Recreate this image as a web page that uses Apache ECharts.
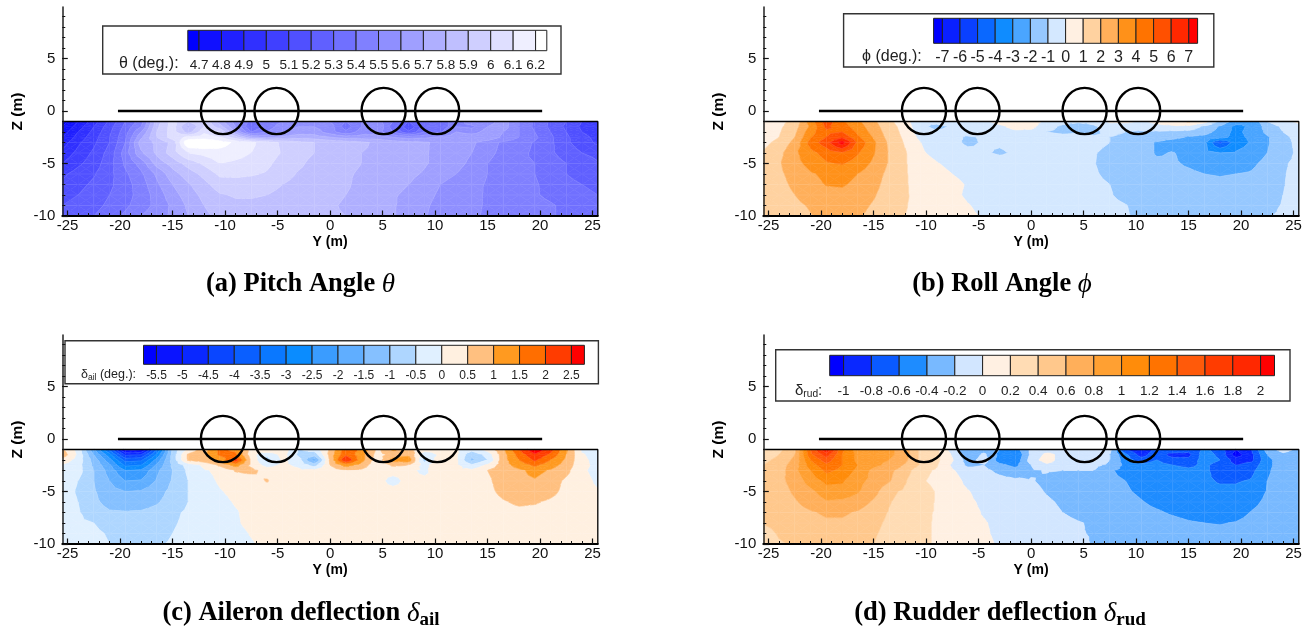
<!DOCTYPE html>
<html><head><meta charset="utf-8">
<style>html,body{margin:0;padding:0;background:#fff}#c{width:1313px;height:628px}</style>
<script src="https://cdn.jsdelivr.net/npm/echarts@6/dist/echarts.min.js"></script>
</head><body><div id="c"></div>
<script>
// Sample stations of every contour field
const spanY=[-25.5,-24,-22.5,-21,-19.5,-18,-16.5,-15,-13.5,-12,-10.5,-9,-7.5,-6,-4.5,-3,-1.5,0,1.5,3,4.5,6,7.5,9,10.5,12,13.5,15,16.5,18,19.5,21,22.5,24,25.5];
const heightZ=[-1,-1.5,-2,-2.5,-3,-4,-5,-6,-7,-8,-9,-10];
// Wing and rotors
const wingY=[-20.2,20.2];
const rotorY=[-10.2,-5.1,5.1,10.2];
const rotorRadiusY=2.1, rotorRadiusZ=2.2;
// Tick values
const majorY=[-25,-20,-15,-10,-5,0,5,10,15,20,25];
const minorY=[-25,-24,-23,-22,-21,-20,-19,-18,-17,-16,-15,-14,-13,-12,-11,-10,-9,-8,-7,-6,-5,-4,-3,-2,-1,0,1,2,3,4,5,6,7,8,9,10,11,12,13,14,15,16,17,18,19,20,21,22,23,24,25];
const majorZ=[-10,-5,0,5];
const minorZ=[-10,-9,-8,-7,-6,-5,-4,-3,-2,-1,0,1,2,3,4,5,6,7,8,9];
// Contour levels
const thetaLevels=[4.7,4.8,4.9,5,5.1,5.2,5.3,5.4,5.5,5.6,5.7,5.8,5.9,6,6.1,6.2];
const phiLevels=[-7,-6,-5,-4,-3,-2,-1,0,1,2,3,4,5,6,7];
const ailLevels=[-5.5,-5,-4.5,-4,-3.5,-3,-2.5,-2,-1.5,-1,-0.5,0,0.5,1,1.5,2,2.5];
const rudLevels=[-1,-0.8,-0.6,-0.4,-0.2,0,0.2,0.4,0.6,0.8,1,1.2,1.4,1.6,1.8,2];
// Pitch angle theta (deg), rows follow heightZ
const thetaField=[
[4.65,4.8,4.95,5.12,5.3,5.45,5.85,6.05,5.9,6.0,5.75,5.55,5.35,5.45,5.5,5.55,5.55,5.5,5.4,5.5,5.55,5.4,5.2,5.4,5.35,5.45,5.55,5.55,5.65,5.5,5.38,5.28,5.2,5.1,5.0],
[4.7,4.85,5.0,5.16,5.33,5.5,5.88,6.05,5.78,6.0,5.85,5.6,5.3,5.45,5.55,5.6,5.6,5.55,5.35,5.5,5.6,5.35,5.12,5.35,5.3,5.5,5.48,5.6,5.65,5.5,5.38,5.28,5.18,5.08,5.02],
[4.75,4.9,5.03,5.18,5.36,5.6,5.9,6.05,5.85,6.08,6.0,5.7,5.4,5.5,5.6,5.65,5.65,5.55,5.42,5.55,5.55,5.4,5.22,5.4,5.38,5.6,5.55,5.65,5.6,5.5,5.4,5.3,5.2,5.1,5.05],
[4.8,4.94,5.06,5.2,5.38,5.68,5.9,6.05,6.12,6.15,6.1,5.95,5.72,5.68,5.72,5.76,5.75,5.7,5.65,5.65,5.65,5.6,5.55,5.58,5.62,5.68,5.68,5.68,5.58,5.5,5.42,5.32,5.22,5.13,5.07],
[4.85,4.98,5.08,5.2,5.4,5.75,5.82,5.93,6.3,6.3,6.25,6.18,6.12,6.05,5.98,5.93,5.9,5.88,5.85,5.82,5.78,5.75,5.73,5.71,5.68,5.65,5.62,5.55,5.48,5.45,5.39,5.32,5.22,5.15,5.08],
[4.93,5.03,5.12,5.24,5.45,5.68,5.82,5.95,6.1,6.13,6.16,6.14,6.1,6.05,5.99,5.94,5.9,5.86,5.83,5.8,5.78,5.76,5.74,5.71,5.67,5.64,5.6,5.53,5.47,5.43,5.38,5.32,5.25,5.2,5.17],
[5,5.08,5.15,5.26,5.42,5.54,5.74,5.84,5.94,6.02,6.1,6.08,6.06,6.02,5.96,5.92,5.87,5.84,5.82,5.8,5.78,5.76,5.74,5.71,5.67,5.63,5.58,5.5,5.45,5.42,5.4,5.35,5.3,5.26,5.21],
[5.08,5.14,5.19,5.27,5.38,5.48,5.62,5.76,5.85,5.93,6.02,6.02,6.01,5.99,5.94,5.89,5.86,5.83,5.81,5.79,5.77,5.75,5.72,5.69,5.63,5.6,5.55,5.5,5.45,5.43,5.4,5.36,5.3,5.26,5.24],
[5.12,5.17,5.22,5.28,5.36,5.45,5.58,5.7,5.79,5.87,5.95,5.96,5.96,5.94,5.9,5.87,5.85,5.83,5.81,5.78,5.76,5.73,5.7,5.66,5.6,5.57,5.53,5.49,5.46,5.44,5.41,5.37,5.33,5.3,5.28],
[5.17,5.2,5.25,5.3,5.36,5.44,5.54,5.66,5.75,5.83,5.89,5.91,5.91,5.9,5.87,5.85,5.84,5.82,5.8,5.78,5.75,5.71,5.68,5.64,5.58,5.55,5.52,5.49,5.46,5.44,5.41,5.38,5.35,5.32,5.3],
[5.2,5.23,5.27,5.32,5.38,5.45,5.53,5.62,5.72,5.8,5.85,5.88,5.88,5.87,5.85,5.84,5.83,5.81,5.79,5.77,5.74,5.71,5.66,5.62,5.56,5.54,5.52,5.49,5.47,5.45,5.43,5.41,5.38,5.35,5.33],
[5.22,5.25,5.3,5.35,5.42,5.5,5.56,5.62,5.7,5.78,5.82,5.84,5.84,5.84,5.83,5.82,5.81,5.81,5.8,5.77,5.74,5.71,5.65,5.61,5.55,5.53,5.51,5.49,5.47,5.45,5.43,5.41,5.38,5.36,5.35]];
// Roll angle phi (deg)
const phiField=[
[.3,.7,1.3,3.5,5.5,4.2,3.2,2.2,1.2,.4,-.9,-.8,-.6,-.4,-.2,.3,.5,.4,-.2,-.7,-.9,-.8,.2,.3,-.2,.3,.7,1.2,.5,-1.2,-2.5,-3,-1,-.3,.2],
[.3,.8,1.6,3.2,5.2,4.5,3.5,2.4,1.4,.6,-.8,-1.2,-.9,-.7,-.5,-.2,.3,.3,-.6,-1.2,-1.3,-1.1,-.6,-.8,-.6,-.4,-.2,-.3,-1.2,-2.1,-3.3,-2.8,-1.6,-.8,-.3],
[.2,.9,1.8,3.6,4.8,5,3.8,2.6,1.5,.7,-.6,-.9,-.8,-.6,-.6,-.4,-.2,-.3,-1,-1.2,-1.1,-1.2,-.7,-1,-1.1,-1.1,-1.2,-1.3,-1.6,-2.4,-3.3,-2.6,-1.8,-1,-.4],
[.4,1,2,3.9,5,5.8,4.2,2.9,1.6,.8,-.3,-.7,-.8,-1.1,-.9,-.6,-.5,-.5,-.6,-.7,-.7,-.9,-1,-1.3,-1.3,-1.5,-1.7,-2.1,-2.3,-2.7,-3.3,-2.8,-2.1,-1.3,-.6],
[.7,1.3,2.3,4.4,5.6,7.5,4.8,3.2,1.8,.9,0,-.4,-.7,-1.2,-.9,-.9,-.8,-.6,-.5,-.5,-.6,-.8,-1,-1.4,-1.6,-2.1,-2.5,-2.7,-2.8,-5.2,-3.5,-2.9,-2.1,-1.4,-.7],
[1.1,1.7,2.8,3.7,4.4,4.9,4.1,3.1,1.9,1.1,.1,-.2,-.5,-.7,-.9,-1.1,-.9,-.7,-.6,-.6,-.7,-.95,-1.2,-1.5,-1.6,-2.1,-1.95,-2.3,-2.7,-3,-2.9,-2.6,-2,-1.4,-.8],
[1.3,1.9,2.7,3.3,3.9,4.1,3.6,2.8,1.9,1.1,.3,.05,-.2,-.35,-.5,-.6,-.7,-.7,-.75,-.8,-.8,-.97,-1.3,-1.5,-1.6,-1.8,-1.9,-2.1,-2.3,-2.5,-2.5,-2.2,-1.7,-1.1,-.8],
[1.3,1.8,2.4,2.9,3.2,3.3,3,2.5,1.7,1.1,.5,.25,0,-.15,-.25,-.35,-.45,-.5,-.55,-.6,-.7,-.9,-1.2,-1.4,-1.6,-1.7,-1.8,-1.85,-2,-2.05,-2,-1.9,-1.5,-1.05,-.8],
[1.3,1.7,2.2,2.7,3.05,3.1,2.8,2.3,1.6,1.1,.6,.35,.15,-.05,-.2,-.3,-.4,-.45,-.5,-.55,-.65,-.8,-1,-1.2,-1.45,-1.55,-1.65,-1.7,-1.8,-1.85,-1.8,-1.7,-1.4,-1.03,-.8],
[1.3,1.6,2,2.4,2.7,2.75,2.5,2.1,1.5,1.1,.7,.45,.15,-.1,-.2,-.3,-.4,-.45,-.5,-.6,-.7,-.8,-.95,-1.2,-1.35,-1.5,-1.55,-1.6,-1.7,-1.75,-1.7,-1.6,-1.35,-1,-.8],
[1.2,1.5,1.8,2.1,2.4,2.5,2.3,1.9,1.4,1.05,.75,.5,.25,.03,-.15,-.25,-.35,-.4,-.5,-.55,-.65,-.75,-.85,-.97,-1.25,-1.4,-1.5,-1.55,-1.6,-1.65,-1.6,-1.5,-1.2,-.95,-.8],
[1.2,1.4,1.6,1.95,2.3,2.4,2.1,1.75,1.3,1,.75,.5,.3,.1,-.05,-.2,-.3,-.4,-.45,-.55,-.6,-.7,-.8,-.93,-1.15,-1.3,-1.4,-1.5,-1.55,-1.6,-1.5,-1.35,-1.05,-.9,-.8]];
// Aileron deflection (deg)
const ailField=[
[.6,-.2,-1.9,-3.6,-5.7,-5.6,-3.5,-.9,.1,.8,1.6,1.4,.3,.5,.3,-.5,-.3,.6,1.8,1.4,.4,1.1,.7,.2,.1,.1,-.3,.2,.9,2,2.9,2.2,1.1,-.1,-.2],
[.8,-.1,-1.5,-2.8,-4.6,-4.5,-2.9,-.8,.6,.9,1.6,1.6,.2,-.4,.2,-.6,-.8,.7,1.9,1.2,.3,.7,.9,-.3,.1,.1,-.9,-.3,.8,1.7,2.4,1.9,1,.05,-.2],
[.3,-.2,-1.2,-2.3,-3.7,-3.6,-2.3,-.8,.6,.8,1.1,2.3,.4,-.7,.1,-.3,-1.7,.6,2.5,1.2,.2,1.2,1.3,-.7,.4,.1,-1.1,-.5,.8,1.5,2.1,1.5,.9,.1,-.15],
[-.05,-.3,-1.1,-1.9,-3.1,-3,-1.9,-.9,-.3,.1,.6,1.2,.4,-.2,.1,-.1,-.7,.5,1.2,.8,.1,.6,.5,-.2,.5,.1,-.4,.1,.8,1.2,1.6,1.2,.8,.1,-.1],
[-.2,-.3,-1,-1.7,-2.5,-2.4,-1.6,-1,-.4,-.05,.1,.55,.65,.3,.15,.1,.1,.2,.5,.4,.1,.1,.1,-.1,.3,.1,.1,.5,.75,.9,1.15,.95,.65,.05,-.1],
[-.3,-.5,-1,-1.5,-2,-1.95,-1.45,-.95,-.5,-.15,.05,.2,.2,.55,.1,.1,.1,.1,.1,.1,.1,-.1,.1,.1,.1,.1,.15,.4,.75,.9,.95,.75,.4,.1,-.05],
[-.3,-.55,-.95,-1.3,-1.5,-1.45,-1.2,-.85,-.5,-.2,-.03,.1,.1,.1,.1,.1,.1,.1,.1,.1,.1,.1,.1,.1,.1,.1,.15,.35,.65,.8,.8,.65,.35,.1,.02],
[-.3,-.5,-.9,-1.15,-1.2,-1.2,-1.05,-.8,-.5,-.25,-.1,.03,.1,.1,.1,.1,.1,.1,.1,.1,.1,.1,.1,.1,.1,.1,.12,.25,.45,.6,.55,.42,.25,.1,.05],
[-.3,-.45,-.8,-.95,-.97,-.95,-.85,-.6,-.42,-.3,-.15,-.03,.1,.1,.1,.1,.1,.1,.1,.1,.1,.1,.1,.1,.1,.1,.1,.15,.3,.35,.35,.25,.15,.1,.08],
[-.3,-.4,-.5,-.7,-.8,-.8,-.75,-.55,-.4,-.3,-.2,-.05,.1,.1,.1,.1,.1,.1,.1,.1,.1,.1,.1,.1,.1,.1,.1,.1,.1,.1,.1,.1,.1,.1,.1],
[-.3,-.35,-.4,-.55,-.65,-.7,-.65,-.5,-.35,-.25,-.2,-.1,.02,.1,.1,.1,.1,.1,.1,.1,.1,.1,.1,.1,.1,.1,.1,.1,.1,.1,.1,.1,.1,.1,.1],
[-.3,-.3,-.35,-.5,-.6,-.65,-.55,-.45,-.3,-.25,-.2,-.1,-.03,.1,.1,.1,.1,.1,.1,.1,.1,.1,.1,.1,.1,.1,.1,.1,.1,.1,.1,.1,.1,.1,.1]];
// Rudder deflection
const rudField=[
[.3,.35,.55,1.4,2,1.25,.9,.95,.85,.7,.35,.25,-.1,-.35,-.3,-.4,-.5,-.15,-.1,-.05,-.1,-.1,-.15,-.8,-.95,-.75,-.6,-.75,-.55,-.7,-1,-.8,-.3,-.12,-.25],
[.3,.4,.6,1.35,1.7,1.2,.95,.9,.85,.7,.35,.25,-.02,-.4,-.15,-.45,-.6,-.15,.05,-.05,-.1,-.15,-.2,-.55,-.9,-.65,-.9,-.85,-.5,-.65,-1.1,-.85,-.4,-.25,-.3],
[.35,.45,.65,1.2,1.5,1.2,.95,.85,.8,.65,.35,.25,.02,-.3,-.1,-.5,-.55,-.1,.1,-.1,-.15,.03,-.2,-.5,-.7,-.6,-.7,-.75,-.5,-.6,-.9,-.85,-.45,-.3,-.3],
[.4,.5,.7,1.1,1.35,1.2,1,.85,.75,.58,.38,.22,-.03,-.25,-.2,-.35,-.45,-.2,-.05,-.1,-.15,-.15,-.25,-.45,-.55,-.55,-.6,-.65,-.55,-.7,-.8,-.72,-.45,-.3,-.3],
[.42,.5,.75,1,1.25,1.15,.95,.75,.65,.5,.25,.18,.02,-.1,-.15,-.25,-.33,-.22,-.19,-.2,-.2,-.2,-.38,-.45,-.5,-.5,-.52,-.55,-.55,-.7,-.75,-.65,-.43,-.3,-.3],
[.45,.55,.67,.9,1.05,1.03,.85,.75,.62,.42,.22,.16,.08,-.05,-.1,-.13,-.16,-.19,-.23,-.28,-.3,-.33,-.37,-.4,-.45,-.48,-.52,-.53,-.56,-.62,-.62,-.58,-.4,-.3,-.3],
[.42,.52,.63,.75,.92,.92,.82,.68,.44,.37,.27,.19,.08,.01,-.07,-.1,-.13,-.16,-.21,-.25,-.28,-.3,-.33,-.38,-.43,-.47,-.5,-.52,-.54,-.55,-.55,-.5,-.39,-.3,-.3],
[.42,.5,.58,.68,.78,.76,.72,.57,.41,.34,.26,.19,.08,.03,-.03,-.07,-.1,-.14,-.18,-.22,-.25,-.27,-.3,-.34,-.39,-.44,-.47,-.5,-.52,-.53,-.52,-.45,-.36,-.3,-.3],
[.4,.47,.54,.58,.63,.63,.58,.47,.39,.32,.23,.19,.07,.04,-.01,-.05,-.09,-.12,-.16,-.2,-.24,-.26,-.29,-.32,-.35,-.38,-.42,-.46,-.48,-.48,-.47,-.39,-.33,-.3,-.3],
[.41,.44,.5,.53,.57,.57,.53,.44,.37,.3,.22,.19,.07,.03,.01,-.03,-.06,-.09,-.12,-.16,-.19,-.22,-.26,-.28,-.31,-.33,-.35,-.38,-.4,-.41,-.39,-.35,-.3,-.28,-.27],
[.33,.42,.46,.49,.5,.5,.47,.42,.35,.28,.22,.19,.08,.05,.02,-.03,-.05,-.07,-.1,-.14,-.19,-.21,-.24,-.26,-.28,-.29,-.3,-.33,-.35,-.35,-.34,-.31,-.28,-.27,-.26],
[.28,.38,.42,.45,.46,.46,.44,.4,.33,.27,.22,.19,.14,.09,.04,-.02,-.04,-.06,-.09,-.12,-.17,-.21,-.23,-.25,-.26,-.27,-.28,-.29,-.3,-.3,-.29,-.28,-.27,-.26,-.26]];
// Band colours, one more than the levels
const thetaColors=['#0000ff','#1010ff','#2020ff','#3030ff','#4040ff','#5050ff','#6060ff','#7070ff','#8080ff','#8f8fff','#9f9fff','#afafff','#bfbfff','#cfcfff','#dfdfff','#efefff','#ffffff'];
const phiColors=['#0000ff','#0a20ff','#0a40ff','#0a68ff','#0f8cff','#4aa5ff','#96c8ff','#d4e8ff','#fff0e2','#ffd2a0','#ffaf5a','#ff9119','#ff7300','#ff5000','#ff2800','#ff0000'];
const ailColors=['#0000ff','#0a14ff','#0a28ff','#0a46ff','#0a5fff','#0a78ff','#0a8cff','#3a9cff','#60aeff','#85c0ff','#aed6ff','#e0f0ff','#fff0e0','#ffc080','#ff9a20','#ff6e00','#ff3c00','#ff0000'];
const rudColors=['#0000ff','#0a28ff','#0a5aff','#1e8cff','#78b9ff','#d2e6ff','#fff0e2','#ffdcb4','#ffc88c','#ffaf5a','#ffa032','#ff8c0a','#ff7300','#ff5a0a','#ff3c00','#ff2800','#ff0000'];

const panels=[
 {field:thetaField,levels:thetaLevels,colors:thetaColors,left:62.3,top:7,
  box:[102.7,26,458.3,48],bar:[187.8,30.3,359,20.4],lab:13.5,mar:8,
  lt:{x:119,y:56,text:'{a|θ (deg.):}',size:16},
  cap:{x:300.5,y:271,text:'{b|(a) Pitch Angle }{i|θ}'}},
 {field:phiField,levels:phiLevels,colors:phiColors,left:763.3,top:7,
  box:[843.6,13.7,370.2,53.3],bar:[933.6,18.3,264,25],lab:16,mar:6,
  lt:{x:862,y:49,text:'{a|ϕ (deg.):}',size:16},
  cap:{x:1002,y:271,text:'{b|(b) Roll Angle }{i|ϕ}'}},
 {field:ailField,levels:ailLevels,colors:ailColors,left:62.3,top:335,
  box:[65,340.7,533.4,43],bar:[143.5,345.3,440.9,19],lab:12,mar:5,
  lt:{x:81,y:367,text:'{a|δ}{s|ail}{a| (deg.):}',size:12.5},
  cap:{x:301,y:597,text:'{b|(c) Aileron deflection }{i|δ}{t|ail}'}},
 {field:rudField,levels:rudLevels,colors:rudColors,left:763.3,top:335,
  box:[775.7,349.7,514.3,51.3],bar:[829.7,355.3,444.8,20.4],lab:13.5,mar:9,
  lt:{x:795,y:382,text:'{a|δ}{s|rud}{a|:}',size:15},
  cap:{x:1000,y:597,text:'{b|(d) Rudder deflection }{i|δ}{t|rud}'}}
];

const sansFont='"Liberation Sans",Arial,sans-serif', serifFont='"Liberation Serif",serif';
const plotW=535.5, plotH=209;
const grid=[],xAxis=[],yAxis=[],series=[],title=[],graphic=[];

function clipTri(tri,lo,hi){
  function cut(poly,lim,keepAbove){
    const out=[];
    for(let i=0;i<poly.length;i++){
      const a=poly[i],b=poly[(i+1)%poly.length];
      const ia=keepAbove?a[2]>=lim:a[2]<=lim, ib=keepAbove?b[2]>=lim:b[2]<=lim;
      if(ia)out.push(a);
      if(ia!==ib){const t=(lim-a[2])/(b[2]-a[2]);out.push([a[0]+t*(b[0]-a[0]),a[1]+t*(b[1]-a[1]),lim]);}
    }
    return out;
  }
  let p=tri;
  if(lo!==null)p=cut(p,lo,true);
  if(p.length&&hi!==null)p=cut(p,hi,false);
  return p;
}
function contourRender(panel){
  const F=panel.field,L=panel.levels,C=panel.colors;
  return function(params,api){
    const i=api.value(3),j=api.value(4);
    if(i>=spanY.length-1||j>=heightZ.length-1)return null;
    const pt=(a,b)=>{const c=api.coord([spanY[a],heightZ[b]]);return [c[0],c[1],F[b][a]];};
    const p=[pt(i,j),pt(i+1,j),pt(i+1,j+1),pt(i,j+1)];
    const m=[0,1,2].map(k=>(p[0][k]+p[1][k]+p[2][k]+p[3][k])/4);
    const children=[];
    for(let e=0;e<4;e++){
      const tri=[p[e],p[(e+1)%4],m];
      for(let b=0;b<C.length;b++){
        const poly=clipTri(tri,b===0?null:L[b-1],b===C.length-1?null:L[b]);
        if(poly.length>=3)children.push({type:'polygon',shape:{points:poly.map(q=>[q[0],q[1]])},style:{fill:C[b],stroke:C[b],lineWidth:.6}});
      }
      for(const lv of L){
        const seg=[];
        for(let k=0;k<3;k++){
          const a=tri[k],c=tri[(k+1)%3];
          if((a[2]<lv)!==(c[2]<lv)){const t=(lv-a[2])/(c[2]-a[2]);seg.push([a[0]+t*(c[0]-a[0]),a[1]+t*(c[1]-a[1])]);}
        }
        if(seg.length===2)children.push({type:'line',shape:{x1:seg[0][0],y1:seg[0][1],x2:seg[1][0],y2:seg[1][1]},style:{stroke:'rgba(255,255,255,0.16)',lineWidth:.6},z2:5});
      }
    }
    // faint mesh seams as in the source plot
    if(i%2===0)children.push({type:'line',shape:{x1:p[0][0],y1:p[0][1],x2:p[3][0],y2:p[3][1]},style:{stroke:'rgba(255,255,255,0.13)',lineWidth:.7},z2:6});
    if(j>=4)children.push({type:'line',shape:{x1:p[0][0],y1:p[0][1],x2:p[1][0],y2:p[1][1]},style:{stroke:'rgba(255,255,255,0.13)',lineWidth:.7},z2:6});
    return {type:'group',children};
  };
}

panels.forEach((P,n)=>{
  const g0=grid.length;
  grid.push({left:P.left,top:P.top,width:plotW,height:plotH});
  grid.push({left:P.bar[0],top:P.bar[1],width:P.bar[2],height:P.bar[3]});
  const base={min:-25.5,max:25.5,gridIndex:g0,type:'value',position:'bottom',splitLine:{show:false},z:6};
  const x0=xAxis.length,y0=yAxis.length;
  xAxis.push(Object.assign({},base,{name:'Y (m)',nameLocation:'middle',nameGap:19,
    nameTextStyle:{fontFamily:sansFont,fontWeight:'bold',fontSize:14,color:'#000'},
    axisLine:{onZero:false,lineStyle:{color:'#000',width:2}},
    axisTick:{inside:true,length:5.5,customValues:majorY,lineStyle:{color:'#111',width:1.2}},
    axisLabel:{customValues:majorY,margin:2,fontFamily:sansFont,fontSize:15,color:'#111',formatter:v=>String(v)}}));
  xAxis.push(Object.assign({},base,{axisLine:{show:false,onZero:false},axisLabel:{show:false},
    axisTick:{inside:true,length:3,customValues:minorY,lineStyle:{color:'#111',width:1}}}));
  const baseY={min:-10,max:9.905,gridIndex:g0,type:'value',position:'left',splitLine:{show:false},z:6};
  yAxis.push(Object.assign({},baseY,{name:'Z (m)',nameLocation:'middle',nameGap:37,
    nameTextStyle:{fontFamily:sansFont,fontWeight:'bold',fontSize:15.5,color:'#000'},
    axisLine:{onZero:false,lineStyle:{color:'#222',width:1.5}},
    axisTick:{inside:true,length:5.5,customValues:majorZ,lineStyle:{color:'#111',width:1.2}},
    axisLabel:{customValues:majorZ,margin:7,fontFamily:sansFont,fontSize:15,color:'#111',formatter:v=>String(v)}}));
  yAxis.push(Object.assign({},baseY,{axisLine:{show:false,onZero:false},axisLabel:{show:false},
    axisTick:{inside:true,length:3,customValues:minorZ,lineStyle:{color:'#111',width:1}}}));
  // legend axes
  const step=P.levels[1]-P.levels[0];
  const lMin=P.levels[0]-step/2, lMax=P.levels[P.levels.length-1]+step/2;
  xAxis.push({gridIndex:g0+1,type:'value',min:lMin,max:lMax,position:'bottom',splitLine:{show:false},axisLine:{show:false,onZero:false},axisTick:{show:false},
    axisLabel:{customValues:P.levels,margin:P.mar,fontFamily:sansFont,fontSize:P.lab,color:'#222',formatter:v=>String(v)}});
  yAxis.push({gridIndex:g0+1,type:'value',min:0,max:1,show:false});

  const nodes=[];
  heightZ.forEach((z,j)=>spanY.forEach((y,i)=>nodes.push([y,z,P.field[j][i],i,j])));
  series.push({type:'custom',xAxisIndex:x0,yAxisIndex:y0,coordinateSystem:'cartesian2d',clip:true,silent:true,z:1,
    data:nodes,encode:{x:0,y:1},renderItem:contourRender(P)});
  // frame round the field
  series.push({type:'line',xAxisIndex:x0,yAxisIndex:y0,silent:true,z:3,symbol:'none',clip:false,
    lineStyle:{color:'#000',width:1.3},data:[[spanY[0],heightZ[0]],[spanY[spanY.length-1],heightZ[0]],[spanY[spanY.length-1],heightZ[heightZ.length-1]]]});
  // wing
  series.push({type:'line',xAxisIndex:x0,yAxisIndex:y0,silent:true,z:4,symbol:'none',
    lineStyle:{color:'#000',width:2.6},data:wingY.map(y=>[y,0])});
  // rotors
  series.push({type:'custom',xAxisIndex:x0,yAxisIndex:y0,silent:true,z:4,clip:false,
    data:rotorY.map(y=>[y,0]),encode:{x:0,y:1},
    renderItem:(p,api)=>{const c=api.coord([api.value(0),api.value(1)]);const s=api.size([rotorRadiusY,rotorRadiusZ]);
      return {type:'ellipse',shape:{cx:c[0],cy:c[1],rx:s[0],ry:s[1]},style:{fill:null,stroke:'#000',lineWidth:2.4}};}});
  // legend bar cells
  const edges=[lMin,...P.levels,lMax];
  series.push({type:'custom',xAxisIndex:x0+2,yAxisIndex:y0+2,silent:true,z:4,clip:false,
    data:P.colors.map((c,k)=>[edges[k],edges[k+1],k]),encode:{x:[0,1]},
    renderItem:(p,api)=>{const a=api.coord([api.value(0),1]),b=api.coord([api.value(1),0]);
      return {type:'rect',shape:{x:a[0],y:a[1],width:b[0]-a[0],height:b[1]-a[1]},style:{fill:P.colors[api.value(2)],stroke:'#222',lineWidth:1}};}});
  graphic.push({type:'rect',z:-1,shape:{x:P.box[0],y:P.box[1],width:P.box[2],height:P.box[3]},style:{fill:'#fff',stroke:'#333',lineWidth:1.4},silent:true});
  const s=P.lt.size;
  title.push({left:P.lt.x,top:P.lt.y,padding:0,text:P.lt.text,textStyle:{fontWeight:'normal',rich:{
    a:{fontFamily:sansFont,fontWeight:'normal',fontSize:s,color:'#222'},
    s:{fontFamily:sansFont,fontWeight:'normal',fontSize:s*0.68,color:'#222',verticalAlign:'bottom',padding:[s*0.5,0,0,0]}}}});
  title.push({left:P.cap.x,top:P.cap.y,padding:0,textAlign:'center',text:P.cap.text,textStyle:{rich:{
    b:{fontFamily:serifFont,fontWeight:'bold',fontSize:26.5,color:'#000'},
    i:{fontFamily:serifFont,fontStyle:'italic',fontWeight:'normal',fontSize:27,color:'#000'},
    t:{fontFamily:serifFont,fontWeight:'bold',fontSize:19,color:'#000',verticalAlign:'bottom',padding:[14,0,0,0]}}}});
});

const chart=echarts.init(document.getElementById('c'),null,{renderer:'canvas'});
chart.setOption({animation:false,backgroundColor:'#fff',tooltip:{show:false},grid,xAxis,yAxis,series,title,graphic});
</script></body></html>
